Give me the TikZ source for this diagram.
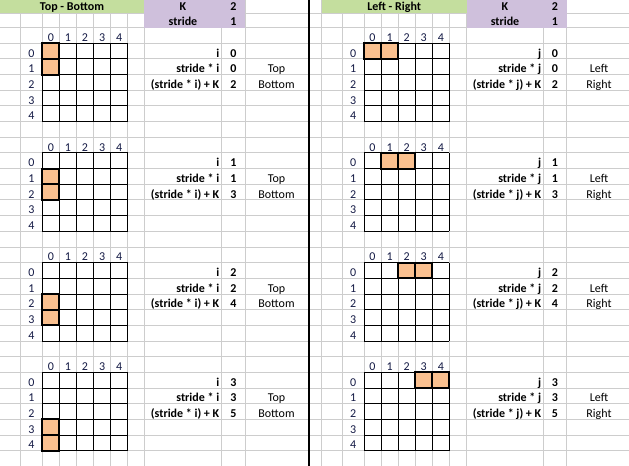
\documentclass[tikz,border=0pt]{standalone}
\usepackage{fontspec}
\setmainfont{Carlito}
\definecolor{hdrgreen}{HTML}{C4DE9E}
\definecolor{hdrpurple}{HTML}{CFC0DC}
\definecolor{cellorange}{HTML}{FAC08F}
\definecolor{gridgray}{HTML}{CDCDCD}
\definecolor{labnavy}{HTML}{141A45}
\tikzset{
  sheetline/.style={draw=gridgray, line width=0.75pt},
  cellline/.style={draw=black, line width=0.75pt},
  hilite/.style={draw=black, line width=1.6pt},
  txtbase/.style={inner sep=0pt, anchor=base, font=\fontsize{9}{10}\selectfont},
  hdrtxt/.style={txtbase, font=\fontsize{9}{10}\selectfont\bfseries},
  numlab/.style={txtbase, text=labnavy},
  infotxt/.style={txtbase, anchor=base east, font=\fontsize{9}{10}\selectfont\bfseries},
  valtxt/.style={txtbase, font=\fontsize{9}{10}\selectfont\bfseries},
  sidetxt/.style={txtbase}
}
\begin{document}
\begin{tikzpicture}[x=0.75pt,y=-0.75pt]
\useasboundingbox (0,0) rectangle (629,466);
\fill[white] (0,0) rectangle (629,466);
% spreadsheet grid lines
\foreach \k in {-1,...,26} {
  \draw[sheetline] (0,{43.3+15.67*\k}) -- (629,{43.3+15.67*\k});
}
\draw[sheetline] (0,13.5) -- (629,13.5);
\foreach \x in {20.7,42.3,59.37,76.44,93.51,110.58,127.65,144,221.7,245,321.7,342.3,364,381.07,398.14,415.21,432.28,449.35,466.7,543.3,566.7} {
  \draw[sheetline] (\x,0) -- (\x,466);
}
% header fills
\fill[hdrgreen] (0,0) rectangle (144,13.5);
\fill[hdrpurple] (144,0) rectangle (245,27.6);
\fill[hdrgreen] (321.7,0) rectangle (466.7,13.5);
\fill[hdrpurple] (466.7,0) rectangle (566.7,27.6);
% divider
\draw[line width=1.5pt] (309,0) -- (309,466);
% header texts
\node[hdrtxt] (titleL) at (72,10.8) {Top - Bottom};
\node[hdrtxt] (kL) at (183,10.8) {K};
\node[hdrtxt] (kvL) at (233.3,10.8) {2};
\node[hdrtxt] (sL) at (183,25.3) {stride};
\node[hdrtxt] (svL) at (233.3,25.3) {1};
\node[hdrtxt] (titleR) at (394.2,10.8) {Left - Right};
\node[hdrtxt] (kR) at (505,10.8) {K};
\node[hdrtxt] (kvR) at (555,10.8) {2};
\node[hdrtxt] (sR) at (505,25.3) {stride};
\node[hdrtxt] (svR) at (555,25.3) {1};
% blocks
\foreach \b in {0,1,2,3} {
  \pgfmathsetmacro{\T}{43.3+109.69*\b}
  \pgfmathtruncatemacro{\vk}{\b+2}
  % highlighted cells
  \fill[cellorange] (42.3,{\T+15.67*\b}) rectangle (59.37,{\T+15.67*(\b+2)});
  \fill[cellorange] ({364+17.07*\b},\T) rectangle ({364+17.07*(\b+2)},{\T+15.67});
  % 5x5 grids
  \foreach \i in {0,...,5} {
    \draw[cellline] ({42.3+17.07*\i},\T) -- ({42.3+17.07*\i},{\T+78.35});
    \draw[cellline] (42.3,{\T+15.67*\i}) -- (127.65,{\T+15.67*\i});
    \draw[cellline] ({364+17.07*\i},\T) -- ({364+17.07*\i},{\T+78.35});
    \draw[cellline] (364,{\T+15.67*\i}) -- (449.35,{\T+15.67*\i});
  }
  \draw[hilite] (42.3,{\T+15.67*\b}) rectangle (59.37,{\T+15.67*(\b+1)});
  \draw[hilite] (42.3,{\T+15.67*(\b+1)}) rectangle (59.37,{\T+15.67*(\b+2)});
  \draw[hilite] ({364+17.07*\b},\T) rectangle ({364+17.07*(\b+1)},{\T+15.67});
  \draw[hilite] ({364+17.07*(\b+1)},\T) rectangle ({364+17.07*(\b+2)},{\T+15.67});
  % labels
  \foreach \c in {0,...,4} {
    \node[numlab] (lc-\b-\c) at ({42.3+17.07*(\c+0.5)},{\T-1.8}) {\c};
    \node[numlab] (lr-\b-\c) at (31.5,{\T+15.67*(\c+1)-1.8}) {\c};
    \node[numlab] (rc-\b-\c) at ({364+17.07*(\c+0.5)},{\T-1.8}) {\c};
    \node[numlab] (rr-\b-\c) at (353.2,{\T+15.67*(\c+1)-1.8}) {\c};
  }
  % info left
  \node[infotxt] (li-\b) at (219.5,{\T+15.67-1.8}) {i};
  \node[valtxt] (liv-\b) at (233.3,{\T+15.67-1.8}) {\b};
  \node[infotxt] (ls-\b) at (219.5,{\T+31.34-1.8}) {stride * i};
  \node[valtxt] (lsv-\b) at (233.3,{\T+31.34-1.8}) {\b};
  \node[infotxt] (lk-\b) at (219.5,{\T+47.01-1.8}) {(stride * i) + K};
  \node[valtxt] (lkv-\b) at (233.3,{\T+47.01-1.8}) {\vk};
  \node[sidetxt] (ltop-\b) at (276.5,{\T+31.34-1.8}) {Top};
  \node[sidetxt] (lbot-\b) at (276.5,{\T+47.01-1.8}) {Bottom};
  % info right
  \node[infotxt] (rj-\b) at (541.5,{\T+15.67-1.8}) {j};
  \node[valtxt] (rjv-\b) at (555,{\T+15.67-1.8}) {\b};
  \node[infotxt] (rs-\b) at (541.5,{\T+31.34-1.8}) {stride * j};
  \node[valtxt] (rsv-\b) at (555,{\T+31.34-1.8}) {\b};
  \node[infotxt] (rk-\b) at (541.5,{\T+47.01-1.8}) {(stride * j) + K};
  \node[valtxt] (rkv-\b) at (555,{\T+47.01-1.8}) {\vk};
  \node[sidetxt] (rleft-\b) at (599,{\T+31.34-1.8}) {Left};
  \node[sidetxt] (rright-\b) at (599,{\T+47.01-1.8}) {Right};
}
\end{tikzpicture}
\end{document}
